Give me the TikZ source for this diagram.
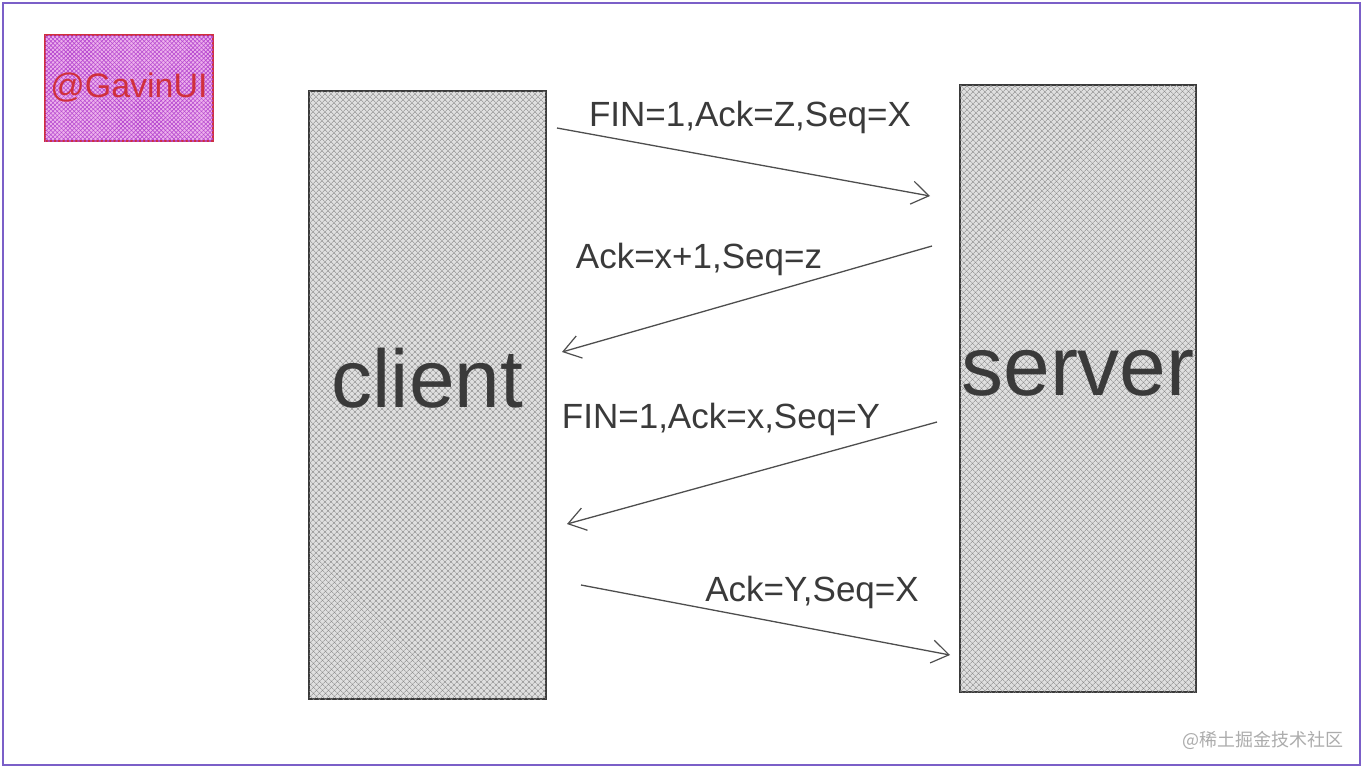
\documentclass[tikz,border=0pt]{standalone}
\usepackage{fontspec}
\setmainfont{Liberation Sans}
\newfontfamily\cjkfont{Noto Sans CJK SC}
\usetikzlibrary{arrows.meta,patterns.meta}
\definecolor{ink}{HTML}{3A3A3A}
\definecolor{framec}{HTML}{7B5FC8}
\definecolor{tagfill}{HTML}{EDB0EC}
\definecolor{taghatch}{HTML}{B648D0}
\definecolor{tagred}{HTML}{D0303C}
\tikzset{
  peer/.style={draw=ink, line width=1.2pt, fill=gray!25,
    postaction={pattern={Lines[angle=45,distance=4pt,line width=0.6pt]}, pattern color=gray!95},
    postaction={pattern={Lines[angle=-45,distance=4pt,line width=0.6pt]}, pattern color=gray!95},
    inner sep=0pt},
  peertext/.style={text=ink, font=\fontsize{82}{92}\selectfont},
  msg/.style={draw=ink!90, line width=1.3pt, -{Straight Barb[length=17pt,width=23pt,line width=1.2pt]}},
  lbl/.style={text=ink, font=\fontsize{35}{40}\selectfont, inner sep=0pt},
  tag/.style={draw=tagred, line width=1.3pt, fill=tagfill,
    postaction={pattern={Lines[angle=45,distance=3pt,line width=0.6pt]}, pattern color=taghatch},
    postaction={pattern={Lines[angle=-45,distance=3pt,line width=0.6pt]}, pattern color=taghatch},
    text=tagred, font=\fontsize{34}{40}\selectfont, inner sep=0pt},
  wm/.style={text=gray!65, font=\cjkfont\fontsize{18}{21}\selectfont, inner sep=0pt},
  framebox/.style={draw=framec, line width=1.6pt}
}
\begin{document}
\begin{tikzpicture}[x=1pt,y=-1pt]
\useasboundingbox (0,0) rectangle (1365,771);
\fill[white] (0,0) rectangle (1365,771);
\draw[framebox] (3,3) rectangle (1360,765);

% tag
\node[tag, minimum width=168pt, minimum height=106pt] (tag) at (129,88) {@GavinUI};

% peers
\node[peer, minimum width=237pt, minimum height=608pt,
      label={[peertext, yshift=17pt]center:client}] (client) at (427.5,395) {};
\node[peer, minimum width=236pt, minimum height=607pt,
      label={[peertext, font=\fontsize{84}{92}\selectfont, yshift=15pt]center:server}] (server) at (1078,388.5) {};

% endpoints
\coordinate (a1s) at (557,128);  \coordinate (a1e) at (930,196);
\coordinate (a2s) at (932,246);  \coordinate (a2e) at (562,352);
\coordinate (a3s) at (937,422);  \coordinate (a3e) at (567,524);
\coordinate (a4s) at (581,585);  \coordinate (a4e) at (950,655);

\draw[msg] (a1s) -- (a1e);
\draw[msg] (a2s) -- (a2e);
\draw[msg] (a3s) -- (a3e);
\draw[msg] (a4s) -- (a4e);

% labels
\node[lbl] (l1) at (750,117) {FIN=1,Ack=Z,Seq=X};
\node[lbl] (l2) at (699,259) {Ack=x+1,Seq=z};
\node[lbl] (l3) at (721,419) {FIN=1,Ack=x,Seq=Y};
\node[lbl] (l4) at (812,592) {Ack=Y,Seq=X};

% watermark
\node[wm] (wm) at (1263,740) {@稀土掘金技术社区};
\end{tikzpicture}
\end{document}
